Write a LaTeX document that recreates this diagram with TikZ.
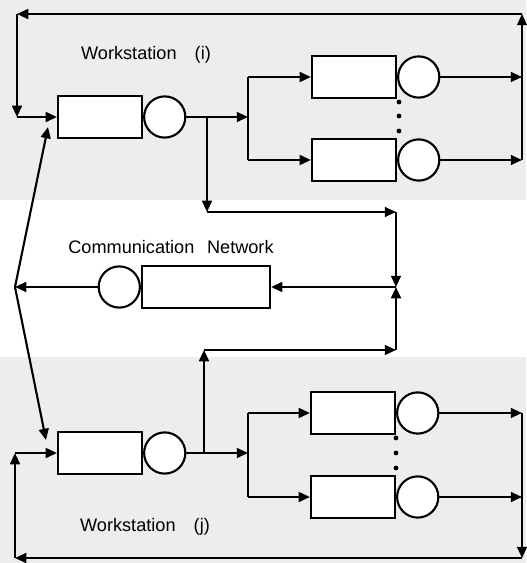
\documentclass[tikz,border=0pt]{standalone}
\usepackage{fontspec}
\setmainfont{Liberation Sans}
\usetikzlibrary{positioning,arrows.meta}
\begin{document}
\begin{tikzpicture}[x=0.025cm, y=-0.025cm, line width=1.5pt, font=\fontsize{12.9}{15}\selectfont]
\tikzset{
  queuebox/.style={draw, fill=white, minimum width=2.1cm, minimum height=1.03cm, inner sep=0pt},
  servercirc/.style={draw, fill=white, circle, minimum size=1.03cm, inner sep=0pt},
  flow/.style={-{Triangle[length=8pt, width=7pt]}},
  label/.style={inner sep=0pt}
}
\useasboundingbox (0,0) rectangle (526,563);
\fill[black!7] (0,0) rectangle (526,200);
\fill[black!7] (0,357) rectangle (526,563);

% workstation (i)
\node[label] (wsi) at (146,55) {Workstation\quad(i)};
\node[queuebox] (qi) at (100,117) {};
\node[servercirc, right=0pt of qi] (si) {};
\node[queuebox] (qia) at (354,77) {};
\node[servercirc, right=0pt of qia] (sia) {};
\node[queuebox] (qib) at (354,160) {};
\node[servercirc, right=0pt of qib] (sib) {};
\foreach \y in {102,116,131}
  \fill (399,\y) circle (2.4);
\coordinate (bi) at (207,117);
\coordinate (fi) at (248,117);
\coordinate (fti) at (248,77);
\coordinate (fbi) at (248,160);
\coordinate (eti) at (522,14);
\coordinate (ebi) at (522,160);
\coordinate (wti) at (17,14);
\coordinate (wbi) at (17,117);
\draw[flow] (si) -- (fi);
\draw (fti) -- (fbi);
\draw[flow] (fti) -- (qia);
\draw[flow] (fbi) -- (qib);
\draw[flow] (sia) -- (sia -| ebi);
\draw[flow] (sib) -- (ebi);
\draw[flow] (ebi) -- (eti);
\draw[flow] (eti) -- (wti);
\draw[flow] (wti) -- (wbi);
\draw[flow] (wbi) -- (qi);

% communication network
\node[label] (cnl) at (171,247) {Communication\hspace{0.7em}Network};
\node[queuebox, minimum width=3.2cm, minimum height=1.05cm] (nq) at (206,287) {};
\node[servercirc, left=0pt of nq] (ns) {};
\coordinate (di) at (207,212);
\coordinate (ni) at (396,212);
\coordinate (mid) at (396,287);
\coordinate (dj) at (204,350);
\coordinate (nj) at (396,350);
\coordinate (lft) at (15,287);
\coordinate (ai) at (48,127);
\coordinate (aj) at (46,440);
\draw[flow] (bi) -- (di);
\draw[flow] (di) -- (ni);
\draw[flow] (ni) -- (mid);
\draw[flow] (mid) -- (nq);
\draw[flow] (ns) -- (lft);
\draw[flow] (lft) -- (ai);
\draw[flow] (lft) -- (aj);

% workstation (j)
\node[label] (wsj) at (145,527) {Workstation\quad(j)};
\node[queuebox] (qj) at (100,453) {};
\node[servercirc, right=0pt of qj] (sj) {};
\node[queuebox] (qja) at (353,413) {};
\node[servercirc, right=0pt of qja] (sja) {};
\node[queuebox] (qjb) at (353,497) {};
\node[servercirc, right=0pt of qjb] (sjb) {};
\foreach \y in {438,453,468}
  \fill (396,\y) circle (2.4);
\coordinate (bj) at (204,453);
\coordinate (fj) at (248,453);
\coordinate (ftj) at (248,413);
\coordinate (fbj) at (248,497);
\coordinate (etj) at (522,413);
\coordinate (ebj) at (522,558);
\coordinate (wtj) at (15,453);
\coordinate (wbj) at (15,558);
\draw[flow] (sj) -- (fj);
\draw (ftj) -- (fbj);
\draw[flow] (ftj) -- (qja);
\draw[flow] (fbj) -- (qjb);
\draw[flow] (sja) -- (etj);
\draw[flow] (sjb) -- (sjb -| etj);
\draw[flow] (etj) -- (ebj);
\draw[flow] (ebj) -- (wbj);
\draw[flow] (wbj) -- (wtj);
\draw[flow] (wtj) -- (qj);
\draw[flow] (bj) -- (dj);
\draw[flow] (dj) -- (nj);
\draw[flow] (nj) -- (mid);
\end{tikzpicture}
\end{document}
